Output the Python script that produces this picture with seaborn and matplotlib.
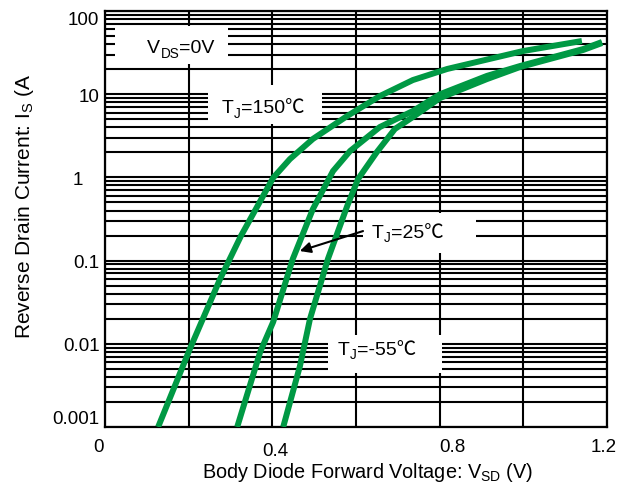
import matplotlib
matplotlib.use("Agg")
import matplotlib.pyplot as plt
from matplotlib.patches import Rectangle
from matplotlib.transforms import ScaledTranslation
from matplotlib.ticker import LogLocator, NullFormatter, FixedLocator, FixedFormatter
import pandas as pd
import seaborn as sns

# Body diode forward characteristics: I_S (A) versus V_SD (V) per junction temperature
temps = ["150", "25", "-55"]

vsd_150 = [0.127, 0.203, 0.275, 0.325, 0.402, 0.442, 0.497, 0.579, 0.657, 0.736, 0.818, 0.999, 1.140]
is_150 = [0.001, 0.0087, 0.060, 0.198, 0.99, 1.66, 2.90, 5.47, 9.5, 14.8, 20.1, 33.0, 43.6]

vsd_25 = [0.316, 0.371, 0.402, 0.449, 0.497, 0.545, 0.586, 0.657, 0.736, 0.801, 0.913, 0.992, 1.143, 1.188]
is_25 = [0.001, 0.0080, 0.0183, 0.105, 0.417, 1.19, 2.08, 4.03, 6.28, 10.0, 16.6, 21.8, 34.9, 42.4]

vsd_m55 = [0.426, 0.466, 0.490, 0.533, 0.579, 0.605, 0.650, 0.693, 0.736, 0.801, 0.913, 0.992, 1.143, 1.188]
is_m55 = [0.001, 0.0054, 0.0199, 0.105, 0.453, 0.957, 2.02, 3.82, 5.32, 9.0, 15.2, 21.2, 34.0, 41.2]

x_ticks = [0.0, 0.2, 0.4, 0.6, 0.8, 1.0, 1.2]
x_tick_labels = ["0", "", "0.4", "", "0.8", "", "1.2"]
y_ticks = [0.001, 0.01, 0.1, 1, 10, 100]
y_tick_labels = ["0.001", "0.01", "0.1", "1", "10", "100"]

GREEN = "#009944"

frames = []
for t, v, i in [("150", vsd_150, is_150), ("25", vsd_25, is_25), ("-55", vsd_m55, is_m55)]:
    frames.append(pd.DataFrame({"VSD": v, "IS": i, "TJ": t}))
df = pd.concat(frames, ignore_index=True)

sns.set_theme(style="white")
plt.rcParams["font.family"] = ["Liberation Sans", "Noto Sans CJK SC", "DejaVu Sans"]
plt.rcParams["mathtext.fontset"] = "custom"
plt.rcParams["mathtext.rm"] = "Liberation Sans"
plt.rcParams["mathtext.it"] = "Liberation Sans:italic"
plt.rcParams["mathtext.bf"] = "Liberation Sans:bold"

fig = plt.figure(figsize=(6.34, 4.85), dpi=100)
ax = fig.add_axes([105 / 634, 1 - 428 / 485, 502 / 634, 416 / 485])

sns.lineplot(data=df, x="VSD", y="IS", hue="TJ", hue_order=temps,
             palette={t: GREEN for t in temps}, sort=False, estimator=None,
             legend=False, lw=4.3, ax=ax, zorder=4)
for line in ax.get_lines():
    line.set_solid_capstyle("butt")
    line.set_solid_joinstyle("round")

ax.set_yscale("log")
ax.set_xlim(0, 1.2)
ax.set_ylim(0.001, 100)

ax.xaxis.set_major_locator(FixedLocator(x_ticks))
ax.xaxis.set_major_formatter(FixedFormatter(x_tick_labels))
ax.yaxis.set_major_locator(FixedLocator(y_ticks))
ax.yaxis.set_major_formatter(FixedFormatter(y_tick_labels))
ax.yaxis.set_minor_locator(LogLocator(base=10, subs=[2, 3, 4, 5, 6, 7, 8, 9], numticks=20))
ax.yaxis.set_minor_formatter(NullFormatter())

ax.grid(True, which="major", axis="both", color="black", lw=1.5)
ax.grid(True, which="minor", axis="y", color="black", lw=1.5)
ax.set_axisbelow(True)
ax.tick_params(which="both", length=0, labelsize=13.5, colors="black")
ax.tick_params(axis="x", pad=8)
ax.tick_params(axis="y", pad=4)
for sp in ax.spines.values():
    sp.set_color("black")
    sp.set_linewidth(1.6)

# tick label placement nudges (inches at 100 dpi)
yticks = ax.yaxis.get_major_ticks()
yticks[3].set_pad(15.5)
yticks[0].label1.set_va("bottom")
yticks[-1].label1.set_va("top")
x_nudges = {"0": (-0.07, 0.0), "0.4": (0.03, -0.04), "0.8": (0.13, 0.0), "1.2": (-0.035, 0.0)}
for lbl, txt in zip(ax.get_xticklabels(), x_tick_labels):
    if txt in x_nudges:
        dx, dy = x_nudges[txt]
        lbl.set_transform(lbl.get_transform() + ScaledTranslation(dx, dy, fig.dpi_scale_trans))

ax.set_xlabel("Body Diode Forward Voltage: V$_\\mathregular{SD}$ (V)", fontsize=14.3, color="black")
ax.set_ylabel("Reverse Drain Current: I$_\\mathregular{S}$ (A", fontsize=15, color="black")
ax.xaxis.set_label_coords(0.523, -0.080)
ax.yaxis.set_label_coords(-0.137, 0.532)


def rich_label(ax, x, y, parts, size=14):
    """Draw a run of text pieces, with subscripts, starting at (x, y) baseline."""
    first = prev = None
    for text, sub in parts:
        fs = size * 0.7 if sub else size
        if first is None:
            t = ax.text(x, y, text, transform=ax.transAxes, fontsize=fs,
                        ha="left", va="baseline", color="black", zorder=6)
            first = t
        else:
            t = ax.annotate(text, xy=(1, 0), xycoords=(prev, first),
                            xytext=(0.2, -2.5 if sub else 0), textcoords="offset points",
                            fontsize=fs, ha="left", va="bottom", color="black", zorder=6)
        prev = t


# white label boxes over the grid (axes fractions)
boxes = [
    (0.020, 0.873, 0.225, 0.091),
    (0.205, 0.728, 0.227, 0.094),
    (0.514, 0.418, 0.225, 0.096),
    (0.444, 0.130, 0.227, 0.091),
]
for x0, y0, w, h in boxes:
    ax.add_patch(Rectangle((x0, y0), w, h, transform=ax.transAxes,
                           facecolor="white", edgecolor="none", zorder=3))

rich_label(ax, 0.084, 0.901, [("V", False), ("DS", True), ("=0V", False)])
rich_label(ax, 0.233, 0.757, [("T", False), ("J", True), ("=150℃", False)])
rich_label(ax, 0.532, 0.457, [("T", False), ("J", True), ("=25℃", False)])
rich_label(ax, 0.464, 0.1755, [("T", False), ("J", True), ("=-55℃", False)])

ax.annotate("", xy=(0.388, 0.423), xytext=(0.514, 0.471), xycoords="axes fraction",
            arrowprops=dict(arrowstyle="-|>", color="black", lw=1.5,
                            mutation_scale=16, shrinkA=0, shrinkB=0), zorder=6)

fig.savefig("out.png", dpi=100, facecolor="white")
